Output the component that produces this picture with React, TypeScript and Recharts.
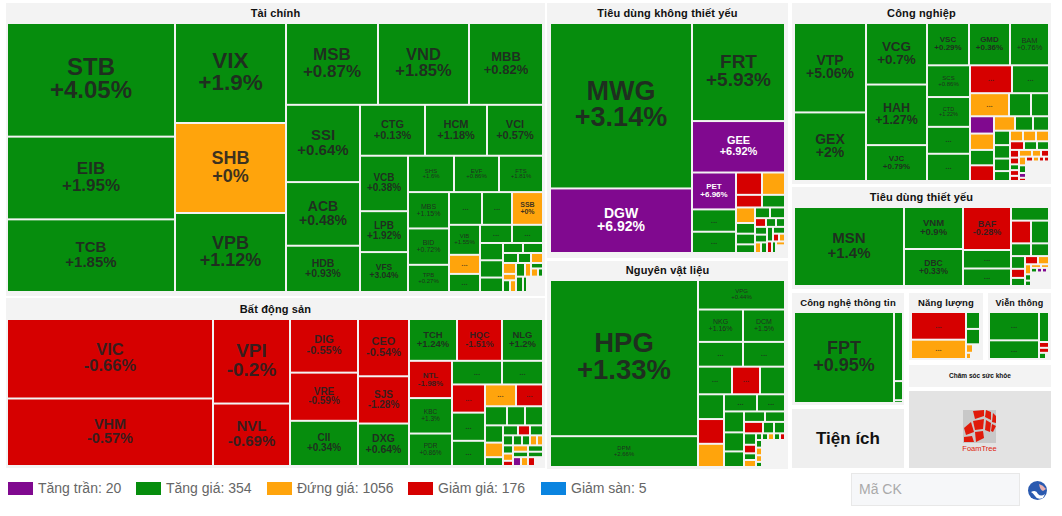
import React from 'react';
import { Treemap } from 'recharts';

const FONT = '"Liberation Sans", Arial, sans-serif';
const COLORS: Record<string, string> = { p: '#80098f', g: '#068d0d', o: '#ffa40c', r: '#d60000', b: '#0a84e0' };

// ---- data: cell weight, ticker, change, status.
// Status strings are split by spaces into the strips of the treemap (x = tickers too small to show).
const financeNames = ['STB','EIB','TCB','VIX','SHB','VPB','MSB','VND','MBB','SSI','ACB','HDB','CTG','HCM','VCI','VCB','LPB','VFS','SHS','EVF','FTS','MBS','BID','TPB','','','SSB','VIB'];
const financeChanges = ['+4.05%','+1.95%','+1.85%','+1.9%','+0%','+1.12%','+0.87%','+1.85%','+0.82%','+0.64%','+0.48%','+0.93%','+0.13%','+1.18%','+0.57%','+0.38%','+1.92%','+3.04%','+1.6%','+0.86%','+1.81%','+1.15%','+0.72%','+0.27%','','','+0%','+1.55%'];
const financeSizes = [19152,13944,12096,11100,9990,8769,7544,7462,6068,5698,4736,3404,3315,3162,2856,2640,1950,1940,1640,1620,1600,1476,1476,1148,1100,1000,990,930,589,558,576,558,391,391,345,200,195,150,130,120,150,90,80,70,120,80,70,60,40,110,60,30,20,180];
const financeStatus = 'ggg gog ggg ggg ggg ggg ggg ggg ggo gog gg ggg gg ggo oogo gogog ggrgx';

const estateNames = ['VIC','VHM','VPI','NVL','DIG','VRE','CII','CEO','SJS','DXG','TCH','HQC','NLG','NTL','KBC','PDR'];
const estateChanges = ['-0.66%','-0.57%','-0.2%','-0.69%','-0.55%','-0.59%','+0.34%','-0.54%','-1.28%','+0.64%','+1.24%','-1.51%','+1.2%','-1.98%','+1.3%','+0.86%'];
const estateSizes = [16377,13905,6507,4812,3672,3264,3060,2907,2397,2193,2013,1868,1681,1612,1526,1397,1188,996,940,924,825,656,591,420,340,330,306,270,162,150,120,130,100,80,70,60,90,80,70,70,90,80,70,70,90,80,60,80];
const estateStatus = 'rr rr rrg rrg grg rgg gg rgg or ggg gog grg ggor ggoo ogpo ggrx';

const discretionaryNames = ['MWG','DGW','FRT','GEE','PET'];
const discretionaryChanges = ['+3.14%','+6.92%','+5.93%','+6.92%','+6.96%'];
const discretionarySizes = [23430,9230,9068,4790,1600,990,940,585,531,325,299,287,194,203,166,158,152,90,85,75,90,90,60,60,90,80,50,40,70,60,40,90];
const discretionaryStatus = 'gp g p pgg ro rg oggg gg rgg ggog ggro rgox';

const materialsNames = ['HPG','DPM','VPG','NKG','DCM'];
const materialsChanges = ['+1.33%','+2.66%','+0.44%','+1.16%','+1.5%'];
const materialsSizes = [23088,4588,2523,1440,1344,1125,1050,955,770,698,650,650,585,570,468,420,380,310,226,205,215,130,120,130,100,80,80,40,40,40,40,35,40,40,35,35,553];
const materialsStatus = 'gg g gg gg grg gro gg ggg gg rgg grgo ggogr goog x';

const industrialNames = ['VTP','GEX','VCG','HAH','VJC','VSC','GMD','BAM','SCS','CTD'];
const industrialChanges = ['+5.06%','+2%','+0.7%','+1.27%','+0.79%','+0.29%','+0.36%','+0.76%','+0.86%','+1.22%'];
const industrialSizes = [6408,4968,3751,3721,2165,1764,1722,1638,1354,1290,1161,1182,1162,1050,897,495,425,420,396,360,384,287,252,231,224,208,200,160,140,136,130,125,120,110,70,60,50,50,40,80,60,52,60,50,30,28,35,30,25,20,469];
const industrialStatus = 'gg ggg ggg gggg rg ogg pogr ogg gggg ooo rgg rrgrr oor ogpr rorr x';

const staplesNames = ['MSN','VNM','DBC','BAF'];
const staplesChanges = ['+1.4%','+0.9%','+0.33%','-0.28%'];
const staplesSizes = [8690,2448,2212,2064,888,840,513,460,414,250,225,175,126,119,110,90,60,40,30,40,30,25,20,20,15,240];
const staplesStatus = 'g gg rgg g rg gg grg ro ogg oo gppg x';

const techNames = ['FPT'];
const techChanges = ['+0.95%'];
const techSizes = [9054,618,171,40,26];
const techStatus = 'g g g g x';

const energySizes = [1540,1045,238,210,60,60,30,30,30];
const energyStatus = 'ro g g ox ox x';
const telecomSizes = [1386,940,294,58,47,42,30];
const telecomStatus = 'gg g r r g x';

const legendLabels = ['Tăng trần','Tăng giá','Đứng giá','Giảm giá','Giảm sàn'];
const legendCounts = [20,354,1056,176,5];
const legendStatus = ['p','g','o','r','b'];

// ---- styles and layout
const LABEL_FONT: Record<string, number> = {
  STB:24,VIX:22.5,EIB:17,TCB:15,SHB:18,VPB:18,MSB:17,VND:16.5,MBB:13,SSI:15,ACB:14,HDB:10.5,CTG:11,HCM:11,VCI:11,VCB:10,LPB:10,VFS:8.5,SHS:6,EVF:6,FTS:6,MBS:7,SSB:7,BID:7,TPB:6,VIB:6,
  VIC:16.5,VHM:14.5,VPI:19,NVL:15,DIG:11,VRE:10,CII:10,CEO:11,SJS:10,DXG:10.5,TCH:9.5,HQC:9,NLG:9.5,NTL:8,KBC:6.5,PDR:6.5,
  MWG:27,FRT:19,GEE:11,DGW:14,PET:8,HPG:27.5,DPM:6,VPG:6,NKG:7,DCM:7,
  VTP:14,GEX:14,VCG:13.5,HAH:12.5,VJC:8,VSC:8,GMD:8,BAM:7.5,SCS:6,CTD:5.5,MSN:15,VNM:9.5,DBC:8.5,BAF:9,FPT:18,
};

// Turn the flat lists into treemap strips, one child node per strip.
const build = (sizes: number[], status: string, names: string[] = [], changes: string[] = []) => {
  let i = 0;
  return status.split(' ').map((strip) => ({
    name: '',
    children: strip.split('').map((s) => {
      const node = { size: sizes[i], name: names[i] || '', change: changes[i] || '', status: s };
      i += 1;
      return node;
    }),
  }));
};

// Each strip takes a whole row of the library's squarify (STRIP_RATIO); a box is laid out on a canvas
// "stretch" times taller than it is drawn, which decides on which side the next strip is cut.
const STRIP_RATIO = 0.001;

const estateStrips = build(estateSizes, estateStatus, estateNames, estateChanges);
const discretionaryStrips = build(discretionarySizes, discretionaryStatus, discretionaryNames, discretionaryChanges);
const staplesStrips = build(staplesSizes, staplesStatus, staplesNames, staplesChanges);

const PANELS = [
  { title: 'Tài chính', fs: 11, ty: 3, rect: [6,3,539,293] },
  { title: 'Bất động sản', fs: 11, ty: 4, rect: [6,298,539,170] },
  { title: 'Tiêu dùng không thiết yếu', fs: 11, ty: 3, rect: [547,3,241,255] },
  { title: 'Nguyên vật liệu', fs: 11, ty: 2, rect: [547,261,241,208] },
  { title: 'Công nghiệp', fs: 11, ty: 3, rect: [792,3,259,181] },
  { title: 'Tiêu dùng thiết yếu', fs: 11, ty: 3, rect: [792,187,259,102] },
  { title: 'Công nghệ thông tin', fs: 9.5, ty: 3, rect: [792,293,112,112] },
  { title: 'Năng lượng', fs: 9.5, ty: 3, rect: [909,293,74,67] },
  { title: 'Viễn thông', fs: 9, ty: 3, rect: [988,293,63,67] },
];

const MAPS = [
  { box: [7,23,536,269], stretch: 1.1, data: build(financeSizes, financeStatus, financeNames, financeChanges) },
  { box: [7,319,206,147], stretch: 2, data: estateStrips.slice(0, 1) },
  { box: [213,319,330,147], stretch: 1.1, data: estateStrips.slice(1) },
  { box: [550,23,142,230], stretch: 1.1, data: discretionaryStrips.slice(0, 1) },
  { box: [692,23,93,230], stretch: 1.03, data: discretionaryStrips.slice(1) },
  { box: [550,280,235,187], stretch: 1.05, data: build(materialsSizes, materialsStatus, materialsNames, materialsChanges) },
  { box: [794,23,255,158], stretch: 1.04, data: build(industrialSizes, industrialStatus, industrialNames, industrialChanges) },
  { box: [794,207,169,79], stretch: 1, data: staplesStrips.slice(0, 2) },
  { box: [963,207,48,79], stretch: 2, data: staplesStrips.slice(2, 3) },
  { box: [1011,207,38,79], stretch: 1.1, data: staplesStrips.slice(3) },
  { box: [794,312,109,91], stretch: 1.1, data: build(techSizes, techStatus, techNames, techChanges) },
  { box: [911,312,69,47], stretch: 1.3, data: build(energySizes, energyStatus) },
  { box: [989,312,60,47], stretch: 1.2, data: build(telecomSizes, telecomStatus) },
];

const LEGEND_X = [8,136,267,408,541];

const Cell = (props: any) => {
  const { x, y: sy, width, height: sh, name, change, status, stretch } = props;
  if (!status || status === 'x') return null;
  const y = sy / stretch;
  const height = sh / stretch;
  const w = width - 2;
  const h = height - 2;
  if (w <= 0 || h <= 0) return null;
  const cx = x + width / 2;
  const cy = y + height / 2;
  const size = LABEL_FONT[name];
  const ink = status === 'p' ? '#fff' : '#222';
  return (
    <g>
      <rect x={x + 1} y={y + 1} width={w} height={h} fill={COLORS[status]} />
      {size ? (
        <text textAnchor="middle" fontFamily={FONT} fontSize={size} fontWeight={size < 8 && status === 'g' ? 400 : 700} fill={ink} fillOpacity={status === 'p' ? 1 : 0.88}>
          <tspan x={cx} y={cy - size * 0.22}>{name}</tspan>
          <tspan x={cx} y={cy + size * 0.76}>{change}</tspan>
        </text>
      ) : w > 24 && h > 14 ? (
        <text x={cx} y={cy + 2} textAnchor="middle" fontFamily={FONT} fontSize={8} fontWeight={700} fill={ink} fillOpacity={0.7}>...</text>
      ) : null}
    </g>
  );
};

const abs = (r: number[]): React.CSSProperties => ({ position: 'absolute', left: r[0], top: r[1], width: r[2], height: r[3] });

export default function App() {
  return (
    <div style={{ position: 'fixed', left: 0, top: 0, width: 1062, height: 516, background: '#fff', overflow: 'hidden', fontFamily: FONT }}>
      {PANELS.map((s) => (
        <div key={s.title} style={{ ...abs(s.rect), background: '#f3f3f3' }}>
          <div style={{ position: 'absolute', left: 0, right: 0, top: s.ty, textAlign: 'center', fontSize: s.fs, fontWeight: 700, color: '#111', lineHeight: '14px', letterSpacing: 0.15, whiteSpace: 'nowrap' }}>{s.title}</div>
        </div>
      ))}
      {MAPS.map((m) => (
        <div key={m.box.join('-')} style={{ ...abs(m.box), overflow: 'hidden' }}>
          <Treemap width={m.box[2]} height={m.box[3] * m.stretch} aspectRatio={STRIP_RATIO} data={m.data} dataKey="size" nameKey="name" isAnimationActive={false} content={<Cell stretch={m.stretch} />} />
        </div>
      ))}
      <div style={{ ...abs([909,365,142,22]), background: '#f3f3f3', textAlign: 'center', fontSize: 6.5, fontWeight: 700, lineHeight: '22px', color: '#111' }}>Chăm sóc sức khỏe</div>
      <div style={{ ...abs([792,409,112,59]), background: '#efefef', textAlign: 'center', fontSize: 17, fontWeight: 700, lineHeight: '59px', color: '#111' }}>Tiện ích</div>
      <div style={{ ...abs([909,391,142,77]), background: '#e3e3e3' }}>
        <svg width={142} height={77}>
          <rect x={54} y={19} width={33} height={33} fill="#c8c8c8" />
          <g fill="#e01a0a">
            <polygon points="64,20 75,19 75,25 66,28" /><polygon points="77,19 82,21 82,29 76,26" /><polygon points="84,22 87,25 87,32 83,31" />
            <polygon points="64,30 75,28 74,38 66,39" /><polygon points="77,29 82,32 81,41 76,39" /><polygon points="83,33 87,35 84,41 82,40" />
            <polygon points="55,37 62,31 65,41 57,44" /><polygon points="66,41 74,40 75,47 67,51" /><polygon points="55,46 63,45 65,51 55,51" />
          </g>
          <text x={70.5} y={60} textAnchor="middle" fontSize={7.5} fill="#e01a0a" fontFamily={FONT}>FoamTree</text>
        </svg>
      </div>
      {legendLabels.map((label, i) => (
        <React.Fragment key={label}>
          <div style={{ ...abs([LEGEND_X[i],482,25,13]), background: COLORS[legendStatus[i]] }} />
          <div style={{ position: 'absolute', left: LEGEND_X[i] + 30, top: 480, fontSize: 14, lineHeight: '17px', color: '#666', whiteSpace: 'nowrap' }}>{`${label}: ${legendCounts[i]}`}</div>
        </React.Fragment>
      ))}
      <div style={{ ...abs([851,473,169,33]), boxSizing: 'border-box', border: '1px solid #e8e8e8', background: '#f6f7f9', color: '#aaa', fontSize: 14, lineHeight: '31px', paddingLeft: 7 }}>Mã CK</div>
      <svg style={{ ...abs([1028,481,19,19]) }} width={19} height={19}>
        <circle cx={9.5} cy={9.5} r={9.5} fill="#2a5ab0" />
        <path d="M3 11 Q8 8 10 13 Q13 16 17 13 L15 17 Q9 19 7 15 Q5 12 3 11Z" fill="#fff" />
        <path d="M11 3 Q15 4 18 8 L15 10 Q12 9 11 3Z" fill="#e8b0b0" />
      </svg>
    </div>
  );
}
